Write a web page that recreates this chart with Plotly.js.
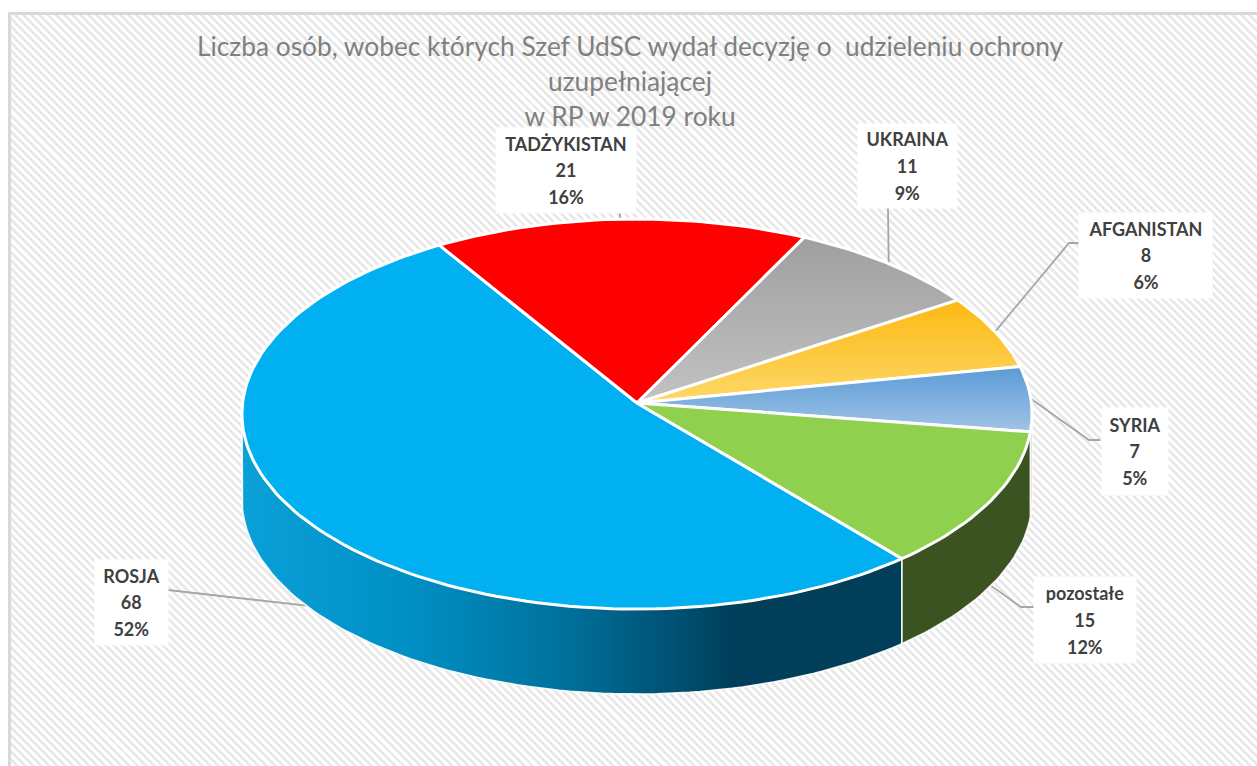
<!DOCTYPE html>
<html lang="pl">
<head>
<meta charset="utf-8">
<script src="https://cdn.plot.ly/plotly-3.0.1.min.js"></script>
<style>
html,body{margin:0;padding:0;background:#fff;width:1257px;height:766px;overflow:hidden}
#hatch{position:absolute;left:8px;top:12px;width:1249px;height:754px;box-sizing:border-box;
border-left:3px solid #d9d9d9;border-top:3px solid #d9d9d9;
background:repeating-linear-gradient(45deg,#ffffff 0,#ffffff 2.9px,#e9e9e9 2.9px,#e9e9e9 5.7px)}
#chart{position:absolute;left:0;top:0;width:1257px;height:766px}
</style>
</head>
<body>
<div id="hatch"></div>
<div id="chart"></div>
<script>
// Data
const categories = ["ROSJA", "TADŻYKISTAN", "UKRAINA", "AFGANISTAN", "SYRIA", "pozostałe"];
const values = [68, 21, 11, 8, 7, 15];
const percents = ["52%", "16%", "9%", "6%", "5%", "12%"];
const titleLines = ["Liczba osób, wobec których Szef UdSC wydał decyzję o  udzieleniu ochrony", "uzupełniającej", "w RP w 2019 roku"];

// Styling per slice (same order as categories)
const topFills = [
  {solid:"#00b0f0"}, {solid:"#ff0000"},
  {grad:["#c2c2c2","#9f9f9f"]}, {grad:["#fdd868","#fdb913"]},
  {grad:["#a0c4e6","#5b9bd5"]}, {solid:"#8fd14f"}
];
const sideFills = [
  {hgrad:["#0aa0d8","#0090c4","#006f9a","#003e5a","#003e5a"]}, {solid:"#990000"},
  {solid:"#666666"}, {solid:"#997000"}, {solid:"#3b5320"}, {solid:"#3b5320"}
];
// Label boxes: centre x, centre y, width, height
const boxes = [[131.5,602.5,73,85],[566,170.5,140,85],[907.5,166,99,84],[1145.5,255.5,133,85],[1135,451.5,66,87],[1085,620,102,86]];
// Leader elbow points, from label towards the slice
const leaderOuter = [[[168,590]],[[620,213]],[[888,208]],[[1079,243],[1069,243]],[[1100,440],[1089,440]],[[1034,607],[1021,607]]];

// Pie geometry (pixels on the hidden axes)
const cx = 637, cy = 403, R = 394.4, S = 194.4, K = 0.0564, DEPTH = 85, START = 140;
const total = values.reduce((a,b)=>a+b,0);
function rim(deg, dy){
  const t = deg*Math.PI/180, w = 1+K*Math.cos(t);
  return [cx+R*Math.sin(t)/w, cy-S*Math.cos(t)/w+(dy||0)];
}
function arc(a0,a1,dy){
  const n = Math.max(2,Math.ceil(Math.abs(a1-a0)/1.5)), p=[];
  for(let i=0;i<=n;i++) p.push(rim(a0+(a1-a0)*i/n,dy));
  return p;
}
const angles = []; let acc = START;
values.forEach(v=>{ const s=v/total*360; angles.push([acc,acc+s]); acc+=s; });

function poly(points,fill,lineColor,lineWidth){
  const tr = {type:"scatter",mode:"lines",x:points.map(p=>p[0]),y:points.map(p=>p[1]),
    fill:"toself",hoverinfo:"skip",showlegend:false,
    line:{color:lineColor,width:lineWidth,shape:"linear"}};
  if(fill.solid) tr.fillcolor = fill.solid;
  if(fill.grad) tr.fillgradient = {type:"vertical",colorscale:[[0,fill.grad[0]],[1,fill.grad[1]]]};
  if(fill.hgrad) tr.fillgradient = {type:"horizontal",colorscale:fill.hgrad.map((c,i)=>[i/(fill.hgrad.length-1),c])};
  return tr;
}

const traces = [];
// Leader lines under the pie
angles.forEach((a,i)=>{
  const mid=(a[0]+a[1])/2, norm=((mid%360)+360)%360;
  const end = rim(mid, (norm>100 && norm<267)?DEPTH:0);
  const pts = leaderOuter[i].concat([end]);
  traces.push({type:"scatter",mode:"lines",x:pts.map(p=>p[0]),y:pts.map(p=>p[1]),hoverinfo:"skip",showlegend:false,
    line:{color:"#a6a6a6",width:1.8}});
});
// Visible side walls
const L0 = 93.2, L1 = 266.8;
angles.forEach((a,i)=>{
  const shift = a[0]>=360 ? 360 : 0;
  const a0=Math.max(a[0]-shift,L0), a1=Math.min(a[1]-shift,L1);
  if(a1<=a0) return;
  const pts = arc(a0,a1,0).concat(arc(a1,a0,DEPTH));
  pts.push(pts[0]);
  traces.push(poly(pts,sideFills[i],"rgba(255,255,255,0.9)",1.6));
});
// Top faces
angles.forEach((a,i)=>{
  const pts=[[cx,cy]].concat(arc(a[0],a[1],0)); pts.push([cx,cy]);
  traces.push(poly(pts,topFills[i],"#ffffff",3));
});

const annotations = categories.map((c,i)=>({
  xref:"x",yref:"y",x:boxes[i][0],y:boxes[i][1],xanchor:"center",yanchor:"middle",
  width:boxes[i][2],height:boxes[i][3],bgcolor:"#ffffff",borderpad:0,showarrow:false,align:"center",valign:"middle",
  font:{family:"Lato, Carlito, sans-serif",size:20.4,color:"#404040"},
  text:[c,values[i],percents[i]].map(s=>'<span style="font-size:18px;font-weight:bold">'+s+'</span>').join("<br>")
}));

const layout = {
  width:1257,height:766,margin:{l:0,r:0,t:0,b:0,pad:0},
  paper_bgcolor:"rgba(0,0,0,0)",plot_bgcolor:"rgba(0,0,0,0)",showlegend:false,
  title:{text:titleLines.map(s=>'<span style="font-size:26.3px">'+s+'</span>').join("<br>"),
    x:630/1257,xanchor:"center",xref:"paper",y:1-56/766,yanchor:"top",yref:"container",
    font:{family:"Lato, Carlito, sans-serif",size:27,color:"#808080"}},
  xaxis:{range:[0,1257],visible:false,fixedrange:true},
  yaxis:{range:[766,0],visible:false,fixedrange:true},
  annotations:annotations
};
Plotly.newPlot("chart",traces,layout,{displayModeBar:false,staticPlot:true});
</script>
</body>
</html>
